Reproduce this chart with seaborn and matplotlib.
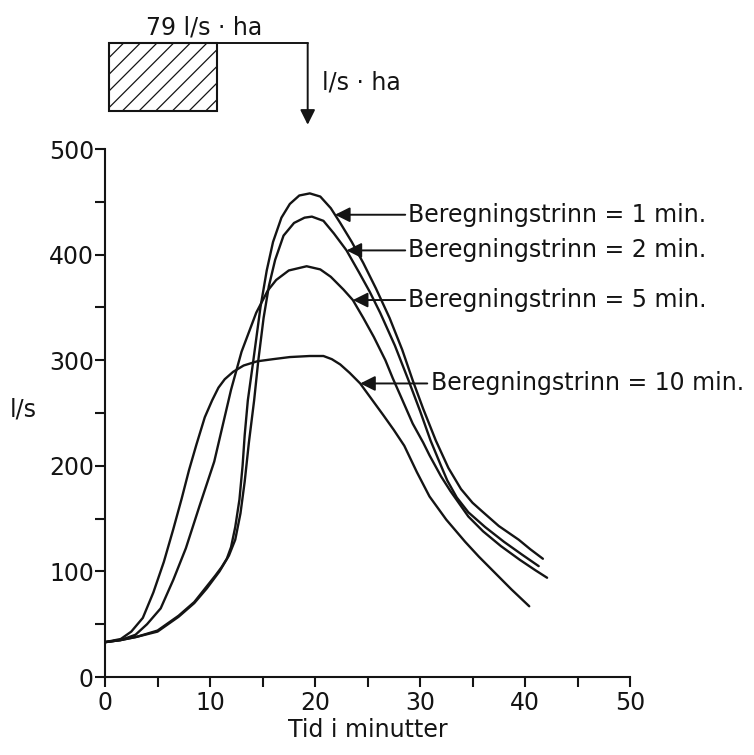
import numpy as np
import pandas as pd
import seaborn as sns
import matplotlib.pyplot as plt
from matplotlib.patches import Rectangle

# Hydrographs (time in minutes, flow in l/s)
tid_1min = [0, 1.5, 3, 5, 7, 8.5, 9.7, 10.5, 11.1, 11.6, 12.0, 12.4, 12.8, 13.1, 13.3, 13.6, 14.1,
            14.8, 15.4, 16.0, 16.8, 17.6, 18.5, 19.5, 20.5, 21.5, 22.4, 23.5, 24.6, 25.8,
            27.1, 28.3, 29.3, 30.3, 31.5, 32.7, 33.9, 35.0, 35.9, 37.5, 39.4, 40.5, 41.7]
q_1min = [33, 35, 38, 44, 58, 71, 86, 96, 104, 112, 123, 142, 168, 200, 229, 262, 298,
          350, 385, 412, 435, 448, 456, 458, 455, 444, 430, 412, 392, 368,
          340, 310, 281, 254, 224, 198, 178, 165, 157, 143, 130, 121, 112]

tid_2min = [0, 1.5, 3, 5, 7, 8.5, 9.7, 10.9, 11.8, 12.4, 12.9, 13.3, 13.7, 14.2, 14.6, 15.1,
            15.6, 16.2, 17.0, 18.0, 19.0, 19.7, 20.8, 21.8, 23.0, 24.2, 25.2, 26.2, 27.6,
            28.9, 30.0, 31.0, 32.0, 32.6, 33.5, 34.6, 36.2, 38.0, 39.7, 41.3]
q_2min = [33, 35, 38, 43, 57, 70, 84, 100, 115, 130, 155, 185, 222, 262, 300, 340,
          370, 395, 418, 430, 435, 436, 432, 420, 404, 383, 365, 345, 314,
          281, 252, 224, 200, 186, 170, 156, 142, 128, 116, 105]

tid_5min = [0, 1.5, 2.9, 4.0, 5.3, 6.5, 7.7, 9.0, 10.4, 11.2, 12.0, 13.0, 14.4, 15.5, 16.3,
            17.5, 19.2, 20.5, 21.5, 22.7, 23.6, 24.6, 25.6, 26.7, 27.4, 28.2, 29.3, 30.3,
            30.9, 32.0, 32.9, 34.6, 36.0, 37.7, 39.5, 41.0, 42.1]
q_5min = [33, 35, 40, 50, 65, 92, 122, 162, 204, 238, 272, 308, 345, 366, 376,
          385, 389, 386, 379, 367, 357, 340, 322, 300, 283, 265, 240, 222,
          210, 190, 176, 152, 138, 124, 111, 101, 94]

tid_10min = [0, 1.5, 2.5, 3.6, 4.6, 5.6, 6.5, 7.3, 8.0, 8.7, 9.5, 10.2, 10.8, 11.4, 12.2,
             13.2, 14.5, 16.0, 17.6, 19.5, 20.8, 21.6, 22.4, 23.3, 24.3, 25.4, 26.5, 27.5,
             28.5, 29.7, 30.9, 32.5, 34.3, 35.6, 37.0, 38.7, 40.4]
q_10min = [33, 36, 43, 56, 80, 109, 140, 169, 196, 220, 246, 262, 274, 282, 289,
           295, 299, 301, 303, 304, 304, 301, 296, 288, 278, 263, 248, 234,
           219, 194, 171, 149, 128, 114, 100, 83, 67]

labels = ['Beregningstrinn = 1 min.', 'Beregningstrinn = 2 min.',
          'Beregningstrinn = 5 min.', 'Beregningstrinn = 10 min.']
arrow_tid = [21.9, 23.0, 23.6, 24.3]
text_tid = [28.9, 28.9, 28.9, 31.0]

rain_start, rain_end = 0.4, 10.7
peak_tid = 19.3

series = [(tid_1min, q_1min), (tid_2min, q_2min), (tid_5min, q_5min), (tid_10min, q_10min)]
frames = []
for lab, (t, q) in zip(labels, series):
    frames.append(pd.DataFrame({'Tid': t, 'Q': q, 'Trinn': lab}))
df = pd.concat(frames, ignore_index=True)

sns.set_style('ticks')
plt.rcParams['font.family'] = ['DejaVu Sans']
plt.rcParams['hatch.linewidth'] = 0.9
ink = '#141414'

fig = plt.figure(figsize=(7.54, 7.55), dpi=100)
ax = fig.add_axes([0.1393, 0.1033, 0.6963, 0.6993])

sns.lineplot(data=df, x='Tid', y='Q', hue='Trinn', palette={l: ink for l in labels},
             estimator=None, sort=False, legend=False, linewidth=1.7, ax=ax)
for line in ax.get_lines():
    line.set_solid_joinstyle('round')

ax.set_xlim(0, 50)
ax.set_ylim(0, 500)
ax.set_xticks(range(0, 51, 10))
ax.set_xticks(range(5, 50, 10), minor=True)
ax.set_yticks(range(0, 501, 100))
ax.set_yticks(range(50, 500, 100), minor=True)
ax.tick_params(axis='both', which='both', direction='out', length=7, width=1.5,
               colors=ink, labelsize=17)
ax.tick_params(axis='x', which='both', pad=3)
ax.tick_params(axis='y', which='both', pad=1)
sns.despine(ax=ax)
for side in ['left', 'bottom']:
    ax.spines[side].set_linewidth(1.5)
    ax.spines[side].set_color(ink)

ax.set_xlabel('Tid i minutter', fontsize=17, color=ink, labelpad=2)
ax.set_ylabel('l/s', fontsize=17, color=ink, rotation=0, ha='center', va='center')
ax.yaxis.set_label_coords(-0.156, 0.506)

# arrows from the labels to each curve
for lab, (t, q), xa, xt in zip(labels, series, arrow_tid, text_tid):
    ya = np.interp(xa, t, q)
    ax.annotate(lab, xy=(xa, ya), xytext=(xt, ya), ha='left', va='center',
                fontsize=17, color=ink, annotation_clip=False,
                arrowprops=dict(arrowstyle='-|>,head_length=0.6,head_width=0.3',
                                color=ink, lw=1.4, shrinkA=0, shrinkB=0,
                                mutation_scale=15))

# rain block sketch above the plot
ax.add_patch(Rectangle((rain_start, 536), rain_end - rain_start, 64, fill=False,
                       hatch='//', edgecolor=ink, lw=1.5, clip_on=False))
ax.plot([rain_end, peak_tid], [600, 600], color=ink, lw=1.4, clip_on=False)
ax.annotate('', xy=(peak_tid, 523), xytext=(peak_tid, 600), annotation_clip=False,
            arrowprops=dict(arrowstyle='-|>,head_length=0.6,head_width=0.3',
                            color=ink, lw=1.4, shrinkA=0, shrinkB=0, mutation_scale=15))
ax.text((rain_start + rain_end) / 2 + 3.9, 615, '79 l/s · ha', ha='center', va='center',
        fontsize=17, color=ink, clip_on=False)
ax.text(peak_tid + 1.4, 563, 'l/s · ha', ha='left', va='center', fontsize=17,
        color=ink, clip_on=False)

fig.savefig('out.png', dpi=100, facecolor='white')
